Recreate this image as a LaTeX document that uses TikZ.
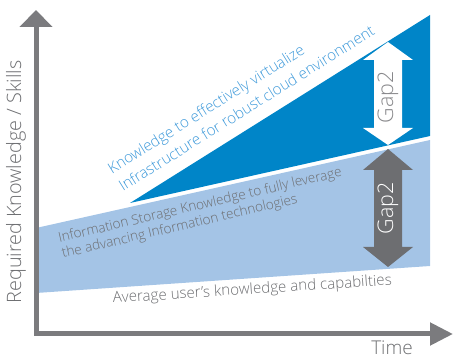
\documentclass[tikz,border=0pt]{standalone}
\usepackage{fontspec}
\setmainfont{Open Sans}[UprightFont={* Light}]
\usetikzlibrary{arrows.meta}
\definecolor{axisgray}{HTML}{7B7B7E}
\definecolor{textgray}{HTML}{6D6E71}
\definecolor{darkblue}{HTML}{0085C8}
\definecolor{lightblue}{HTML}{A4C4E6}
\definecolor{bluetext}{HTML}{3F9ADA}
\definecolor{gapgray}{HTML}{6D6E71}
\tikzset{
  band/.style={fill=lightblue, draw=none},
  wedge/.style={fill=darkblue, draw=none},
  axisline/.style={draw=axisgray, line width=5pt, line join=miter},
  slanted/.style={inner sep=0pt, anchor=base west, align=left},
  gaplabel/.style={rotate=90, inner sep=0pt, font=\fontsize{21.5}{21.5}\selectfont},
}
\begin{document}
\begin{tikzpicture}[x=1pt, y=-1pt]
\useasboundingbox (0,0) rectangle (453,358);

% shaded regions
\draw[band] (36,228) -- (430,140) -- (430,266) -- (36,293) -- cycle;
\draw[wedge] (130,203) -- (430,15) -- (430,136) -- cycle;

% axes
\coordinate (ytip) at (36,10);
\coordinate (origin) at (36,334);
\coordinate (xtip) at (453,334);
\draw[axisline, {Triangle[length=17pt,width=32pt]}-{Triangle[length=23pt,width=22pt]}]
  (ytip) -- (origin) -- (xtip);

% upper double arrow (white)
\fill[white] (388,42) -- (413,60) -- (402,60) -- (402,128) -- (413,128) -- (388,145)
  -- (363,128) -- (374,128) -- (374,60) -- (363,60) -- cycle;
\node[gaplabel, text=axisgray!90] (gapA) at (388,97) {Gap2};

% lower double arrow (gray)
\fill[gapgray] (388,149) -- (413,170) -- (402,170) -- (402,247) -- (413,247) -- (388,267)
  -- (363,247) -- (374,247) -- (374,170) -- (363,170) -- cycle;
\node[gaplabel, text=white] (gapB) at (388,208) {Gap2};

% slanted labels (anchored at the start of their last line)
\node[slanted, rotate=32, text=bluetext, font=\fontsize{15.2}{21}\selectfont]
  (virt) at (123,192) {Knowledge to effectively virtualize\\Infrastructure for robust cloud environment};
\node[slanted, rotate=13.2, text=textgray, font=\fontsize{13.6}{16}\selectfont]
  (stor) at (63,258) {Information Storage Knowledge to fully leverage\\the advancing Information technologies};
\node[slanted, rotate=3.7, text=textgray, font=\fontsize{15.1}{15.1}\selectfont]
  (avg) at (113,303) {Average user’s knowledge and capabilties};

% axis titles
\node[rotate=90, inner sep=0pt, text=textgray, font=\fontsize{19.8}{19.8}\selectfont]
  (ylab) at (16,182) {Required Knowledge / Skills};
\node[inner sep=0pt, anchor=base, text=textgray, font=\fontsize{19}{19}\selectfont]
  (xlab) at (392,354.5) {Time};
\end{tikzpicture}
\end{document}
